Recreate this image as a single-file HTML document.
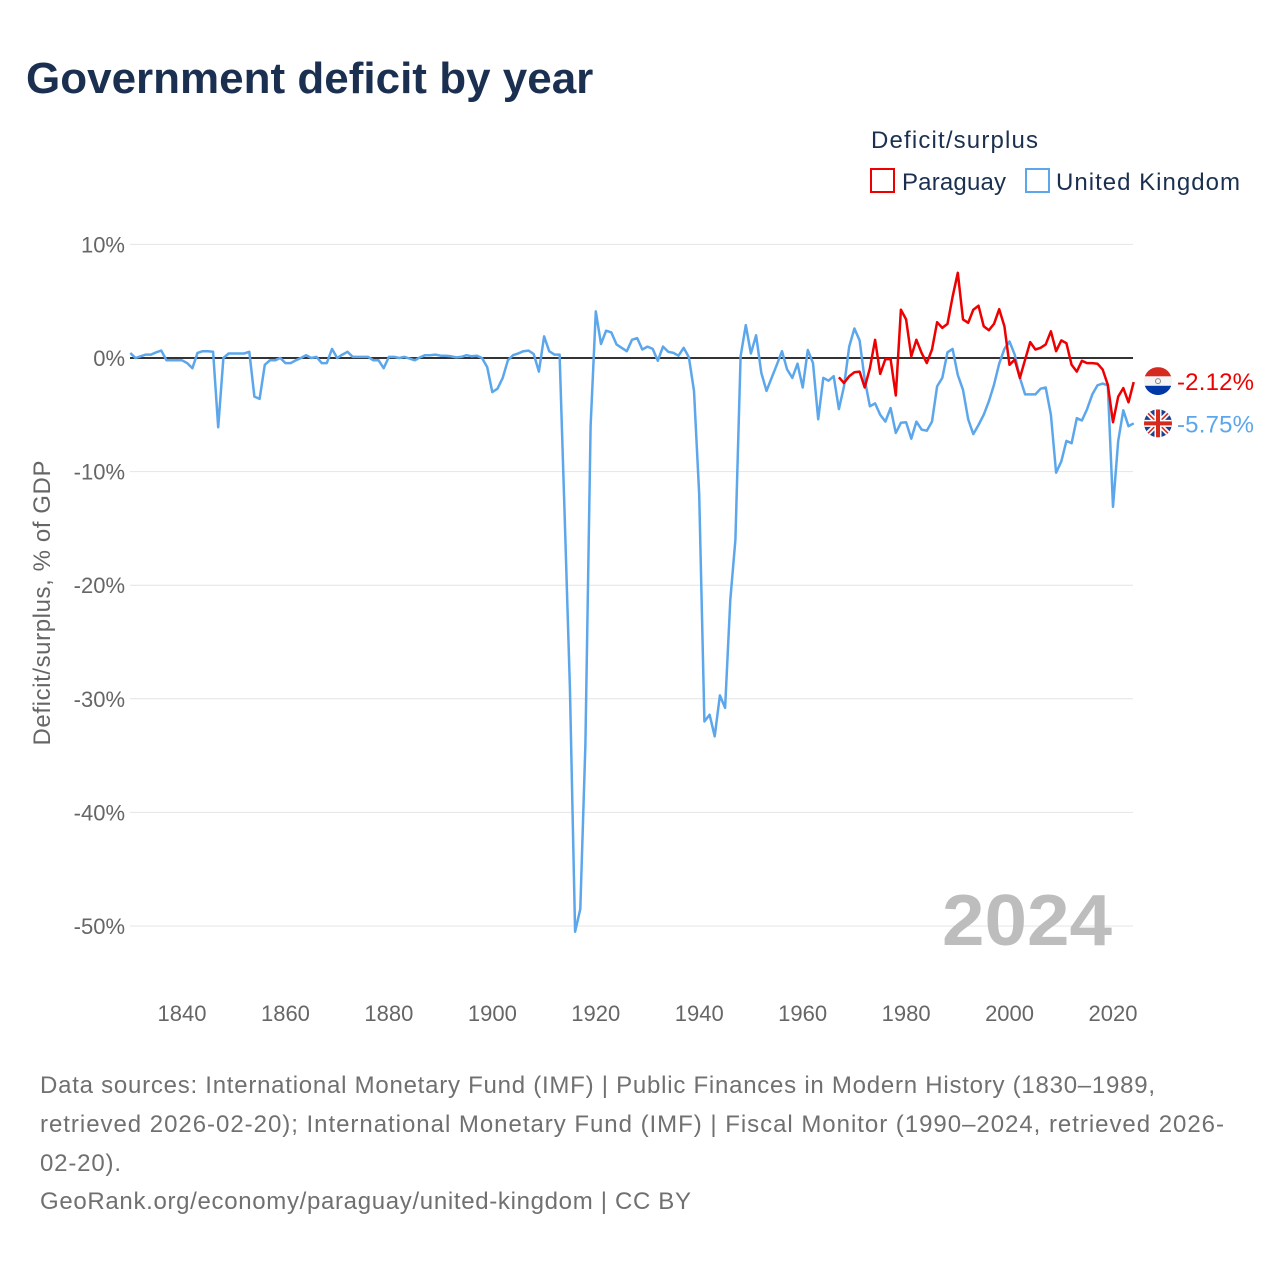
<!DOCTYPE html>
<html><head><meta charset="utf-8"><style>
body{margin:0;background:#fff;font-family:"Liberation Sans",sans-serif}
#wrap{position:relative;width:1280px;height:1280px;overflow:hidden}
</style></head><body>
<div id="wrap">
<svg id="chart" width="1280" height="1280">
<text x="26" y="93" font-size="44" font-weight="bold" fill="#1b3050">Government deficit by year</text>
<text x="871" y="148" font-size="24" fill="#1b3050" textLength="167">Deficit/surplus</text>
<g>
<rect x="871" y="169" width="23" height="23" fill="none" stroke="#ee0000" stroke-width="2"/>
<text x="902" y="190" font-size="24" fill="#1b3050" textLength="104">Paraguay</text></g>
<g>
<rect x="1026" y="169" width="23" height="23" fill="none" stroke="#5ca7ec" stroke-width="2"/>
<text x="1056" y="190" font-size="24" fill="#1b3050" textLength="184">United Kingdom</text></g>
<g id="grid"></g><g id="yt"></g><g id="xt"></g>
<text x="942" y="945" font-size="72" font-weight="bold" fill="#bdbdbd" textLength="170" lengthAdjust="spacingAndGlyphs">2024</text>
<text transform="translate(50,603) rotate(-90)" font-size="24" fill="#666" text-anchor="middle" textLength="285">Deficit/surplus, % of GDP</text>
<g id="series"></g>
<g id="ends"></g>
<g font-size="24" fill="#707070">
<text x="40" y="1093" textLength="1115">Data sources: International Monetary Fund (IMF) | Public Finances in Modern History (1830–1989,</text>
<text x="40" y="1132" textLength="1184">retrieved 2026-02-20); International Monetary Fund (IMF) | Fiscal Monitor (1990–2024, retrieved 2026-</text>
<text x="40" y="1171" textLength="81">02-20).</text>
<text x="40" y="1209" textLength="651">GeoRank.org/economy/paraguay/united-kingdom | CC BY</text>
</g>
</svg></div>
<script>
const yTicks=[10,0,-10,-20,-30,-40,-50];
const yTickLabels=["10%","0%","-10%","-20%","-30%","-40%","-50%"];
const xTicks=[1840,1860,1880,1900,1920,1940,1960,1980,2000,2020];
const ukStart=1830;
const ukValues=[0.44,0,0.15,0.3,0.3,0.5,0.65,-0.2,-0.2,-0.2,-0.2,-0.45,-0.9,0.45,0.6,0.6,0.55,-6.1,0,0.4,0.4,0.4,0.4,0.55,-3.4,-3.6,-0.6,-0.2,-0.2,0,-0.45,-0.45,-0.2,0,0.25,0,0.1,-0.45,-0.45,0.8,0,0.3,0.55,0.1,0.1,0.1,0.1,-0.2,-0.2,-0.9,0.1,0.1,0,0.1,-0.05,-0.2,0.05,0.25,0.25,0.3,0.2,0.2,0.15,0.05,0.1,0.25,0.15,0.2,0,-0.8,-3.0,-2.7,-1.75,-0.2,0.25,0.4,0.6,0.65,0.35,-1.2,1.9,0.6,0.3,0.3,-14,-29,-50.5,-48.5,-34,-6,4.1,1.23,2.4,2.25,1.2,0.9,0.6,1.6,1.75,0.75,1.0,0.8,-0.25,1.0,0.55,0.45,0.2,0.9,0.05,-2.9,-12,-32,-31.4,-33.3,-29.7,-30.8,-21.3,-16,0.15,2.9,0.4,2.0,-1.3,-2.9,-1.75,-0.6,0.6,-1.0,-1.75,-0.5,-2.6,0.7,-0.45,-5.4,-1.75,-2.0,-1.6,-4.5,-2.5,1.0,2.6,1.55,-1.9,-4.25,-4.0,-5.0,-5.6,-4.4,-6.6,-5.7,-5.65,-7.1,-5.6,-6.3,-6.4,-5.6,-2.5,-1.75,0.5,0.8,-1.5,-2.8,-5.4,-6.7,-5.9,-5.0,-3.8,-2.35,-0.5,0.8,1.45,0.3,-1.75,-3.2,-3.2,-3.2,-2.7,-2.6,-5.0,-10.1,-9.1,-7.3,-7.5,-5.3,-5.5,-4.5,-3.2,-2.4,-2.25,-2.4,-13.1,-7.3,-4.6,-6.0,-5.75];
const pyStart=1967;
const pyValues=[-1.7,-2.2,-1.6,-1.25,-1.2,-2.6,-0.9,1.6,-1.4,-0.1,-0.1,-3.3,4.25,3.4,0.15,1.6,0.45,-0.45,0.75,3.15,2.65,3.0,5.4,7.5,3.4,3.1,4.25,4.6,2.8,2.45,3.0,4.3,2.8,-0.6,-0.15,-1.75,-0.15,1.4,0.75,0.9,1.2,2.35,0.6,1.55,1.3,-0.6,-1.2,-0.25,-0.45,-0.45,-0.5,-1.0,-2.35,-5.65,-3.4,-2.65,-3.9,-2.12];
const endLabels=["-2.12%","-5.75%"];
const NS="http://www.w3.org/2000/svg";
const X=y=>130.3+(y-1830)*5.172;
const Y=v=>358-v*11.36;
function mk(t,a,p){const e=document.createElementNS(NS,t);for(const k in a)e.setAttribute(k,a[k]);(p||document.getElementById('chart')).appendChild(e);return e;}
const grid=document.getElementById('grid'),yt=document.getElementById('yt'),xt=document.getElementById('xt');
yTicks.forEach((t,i)=>{
 const l=mk('line',{x1:130,x2:1133,y1:Y(t),y2:Y(t),stroke:t===0?'#333':'#e4e4e4','stroke-width':t===0?2:1},grid);
 
 
 const tx=mk('text',{x:125,y:Y(t)+8,'font-size':22,fill:'#666','text-anchor':'end'},yt);
 tx.textContent=yTickLabels[i];
 
 
});
xTicks.forEach(t=>{
 const tx=mk('text',{x:X(t),y:1021,'font-size':22,fill:'#666','text-anchor':'middle'},xt);
 tx.textContent=t;
 
 
});
const ser=document.getElementById('series');
function line(start,vals,col,name){
 const d=vals.map((v,i)=>(i?'L':'M')+X(start+i).toFixed(1)+','+Y(v).toFixed(1)).join('');
 const p=mk('path',{d:d,fill:'none',stroke:col,'stroke-width':2.5,'stroke-linejoin':'round'},ser);
 
 
}
line(ukStart,ukValues,'#5ca7ec','uk-line');
line(pyStart,pyValues,'#ee0000','paraguay-line');
const ends=document.getElementById('ends');
const pyLast=pyValues[pyValues.length-1],ukLast=ukValues[ukValues.length-1];
let cy=Y(pyLast)-1;
const g1=mk('g',{},ends);


const cp1=mk('clipPath',{id:'c1'},g1);mk('circle',{cx:1158,cy:cy,r:14},cp1);
mk('rect',{x:1144,y:cy-14,width:28,height:9.3,fill:'#d52b1e','clip-path':'url(#c1)'},g1);
mk('rect',{x:1144,y:cy-4.7,width:28,height:9.4,fill:'#f4f4f4','clip-path':'url(#c1)'},g1);
mk('rect',{x:1144,y:cy+4.7,width:28,height:9.3,fill:'#0038a8','clip-path':'url(#c1)'},g1);
mk('circle',{cx:1158,cy:cy,r:2.5,fill:'none',stroke:'#888','stroke-width':1},g1);
const t1=mk('text',{x:1177,y:cy+9,'font-size':24,fill:'#ee0000',textLength:77},ends);
t1.textContent=endLabels[0];


let cy2=Math.max(Y(ukLast),cy+42);
const g2=mk('g',{},ends);


const cp=mk('clipPath',{id:'c2'},g2);mk('circle',{cx:1158,cy:cy2,r:14},cp);
const c='url(#c2)';
mk('rect',{x:1144,y:cy2-14,width:28,height:28,fill:'#1f3f8f','clip-path':c},g2);
mk('path',{d:`M1144,${cy2-14}L1172,${cy2+14}M1172,${cy2-14}L1144,${cy2+14}`,stroke:'#fff','stroke-width':5,'clip-path':c},g2);
mk('path',{d:`M1144,${cy2-14}L1172,${cy2+14}M1172,${cy2-14}L1144,${cy2+14}`,stroke:'#d52b1e','stroke-width':1.6,'clip-path':c},g2);
mk('path',{d:`M1158,${cy2-14}V${cy2+14}M1144,${cy2}H1172`,stroke:'#fff','stroke-width':7,'clip-path':c},g2);
mk('path',{d:`M1158,${cy2-14}V${cy2+14}M1144,${cy2}H1172`,stroke:'#d52b1e','stroke-width':4,'clip-path':c},g2);
const t2=mk('text',{x:1177,y:cy2+9,'font-size':24,fill:'#5ca7ec',textLength:77},ends);
t2.textContent=endLabels[1];


</script>
</body></html>
